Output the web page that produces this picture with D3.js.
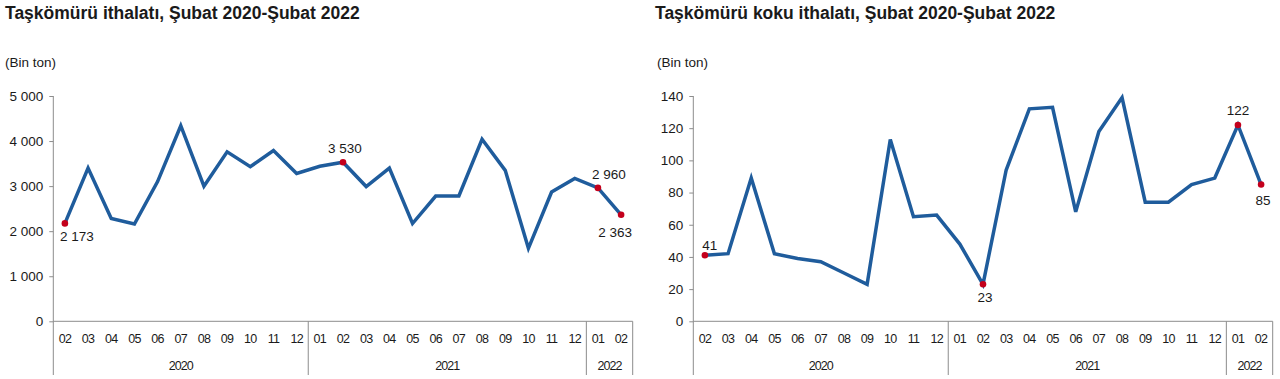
<!DOCTYPE html>
<html>
<head>
<meta charset="utf-8">
<script src="https://cdn.jsdelivr.net/npm/d3@7"></script>
<style>
  body { margin: 0; background: #fff; }
  svg { display: block; font-family: "Liberation Sans", Arial, sans-serif; }
</style>
</head>
<body>
<svg id="chart" width="1280" height="379"></svg>
<script>
// months Feb 2020 .. Feb 2022
var months = ["02","03","04","05","06","07","08","09","10","11","12",
              "01","02","03","04","05","06","07","08","09","10","11","12",
              "01","02"];
var years = ["2020", "2021", "2022"];
var yearStarts = [0, 11, 23];

// Taşkömürü ithalatı (bin ton)
var coalValues = [2173, 3400, 2280, 2160, 3100, 4340, 3000, 3760, 3430, 3790, 3280,
                  3440, 3530, 2990, 3400, 2170, 2780, 2780, 4040, 3350, 1620, 2870, 3170,
                  2960, 2363];
var coalTicks = [0, 1000, 2000, 3000, 4000, 5000];
var coalLabelled = [0, 12, 23, 24];

// Taşkömürü koku ithalatı (bin ton)
var cokeValues = [41, 42, 89, 42, 39, 37, 30, 23, 113, 65, 66,
                  48, 23, 94, 132, 133, 68, 118, 139, 74, 74, 85, 89,
                  122, 85];
var cokeTicks = [0, 20, 40, 60, 80, 100, 120, 140];
var cokeLabelled = [0, 12, 23, 24];

var loc = d3.formatLocale({decimal: ",", thousands: " ", grouping: [3], currency: ["", ""]});
var fmt = loc.format(",");

var svg = d3.select("#chart");

function drawChart(o) {
  var g = svg.append("g");
  var top = 96, bottom = 321.3;

  var x = d3.scaleBand().domain(d3.range(months.length)).range([o.x0, o.x1]);
  var y = d3.scaleLinear().domain([0, d3.max(o.ticks)]).range([bottom, top]);

  // title + unit
  g.append("text").attr("x", o.titleX).attr("y", 19)
    .style("font-size", "17.5px").style("font-weight", "bold").attr("fill", "#1a1a1a")
    .text(o.title);
  g.append("text").attr("x", o.unitX).attr("y", 67)
    .style("font-size", "13.5px").attr("fill", "#1a1a1a")
    .text("(Bin ton)");

  // y axis
  var yAxis = g.append("g").attr("transform", "translate(" + o.x0 + ",0)")
    .call(d3.axisLeft(y).tickValues(o.ticks).tickFormat(fmt).tickSize(4).tickPadding(6));
  yAxis.select(".domain").attr("stroke", "#8c8c8c").attr("d", "M0," + top + "V" + 375);
  yAxis.selectAll(".tick line").attr("stroke", "#8c8c8c");
  yAxis.selectAll(".tick text").style("font-size", "13.5px").attr("fill", "#1a1a1a")
    .attr("font-family", "Liberation Sans, Arial, sans-serif");

  // x axis baseline
  g.append("line").attr("x1", o.x0).attr("x2", o.x1).attr("y1", bottom).attr("y2", bottom)
    .attr("stroke", "#8c8c8c");

  // month labels
  g.selectAll(".month").data(months).enter().append("text")
    .attr("x", function(d, i) { return x(i) + x.bandwidth() / 2; })
    .attr("y", 343)
    .attr("text-anchor", "middle")
    .style("font-size", "12.5px").style("letter-spacing", "-0.7px").attr("fill", "#1a1a1a")
    .text(function(d) { return d; });

  // year separators and labels
  var bounds = yearStarts.concat([months.length]);
  bounds.slice(1).forEach(function(b) {
    var xx = b < months.length ? x(b) : o.x1;
    g.append("line").attr("x1", xx).attr("x2", xx).attr("y1", bottom).attr("y2", 375)
      .attr("stroke", "#8c8c8c");
  });
  years.forEach(function(yr, i) {
    var a = x(bounds[i]);
    var b = bounds[i + 1] < months.length ? x(bounds[i + 1]) : o.x1;
    g.append("text").attr("x", (a + b) / 2).attr("y", 370)
      .attr("text-anchor", "middle")
      .style("font-size", "12.5px").style("letter-spacing", "-0.9px").attr("fill", "#1a1a1a")
      .text(yr);
  });

  // line
  var line = d3.line()
    .x(function(d, i) { return x(i) + x.bandwidth() / 2; })
    .y(function(d) { return y(d); });
  g.append("path").datum(o.values)
    .attr("d", line)
    .attr("fill", "none")
    .attr("stroke", "#1f5c9c")
    .attr("stroke-width", 3.5)
    .attr("stroke-linejoin", "miter");

  // highlighted points and labels
  g.selectAll(".pt").data(o.labelled).enter().append("circle")
    .attr("cx", function(i) { return x(i) + x.bandwidth() / 2; })
    .attr("cy", function(i) { return y(o.values[i]); })
    .attr("r", 3.3)
    .attr("fill", "#c4001c");

  g.selectAll(".lbl").data(o.labelled).enter().append("text")
    .attr("x", function(i, k) { return x(i) + x.bandwidth() / 2 + o.offsets[k][0]; })
    .attr("y", function(i, k) { return y(o.values[i]) + o.offsets[k][1]; })
    .attr("text-anchor", "middle")
    .attr("dominant-baseline", "central")
    .style("font-size", "13.5px").attr("fill", "#1a1a1a")
    .text(function(i) { return fmt(o.values[i]); });
}

drawChart({
  title: "Taşkömürü ithalatı, Şubat 2020-Şubat 2022",
  titleX: 5, unitX: 5,
  x0: 53.3, x1: 632.7,
  values: coalValues, ticks: coalTicks, labelled: coalLabelled,
  offsets: [[12, 13], [2, -14], [11, -13], [-6, 18]]
});

drawChart({
  title: "Taşkömürü koku ithalatı, Şubat 2020-Şubat 2022",
  titleX: 655, unitX: 657,
  x0: 693.3, x1: 1272.7,
  values: cokeValues, ticks: cokeTicks, labelled: cokeLabelled,
  offsets: [[5, -10], [2, 13], [0, -14], [2, 16]]
});
</script>
</body>
</html>
